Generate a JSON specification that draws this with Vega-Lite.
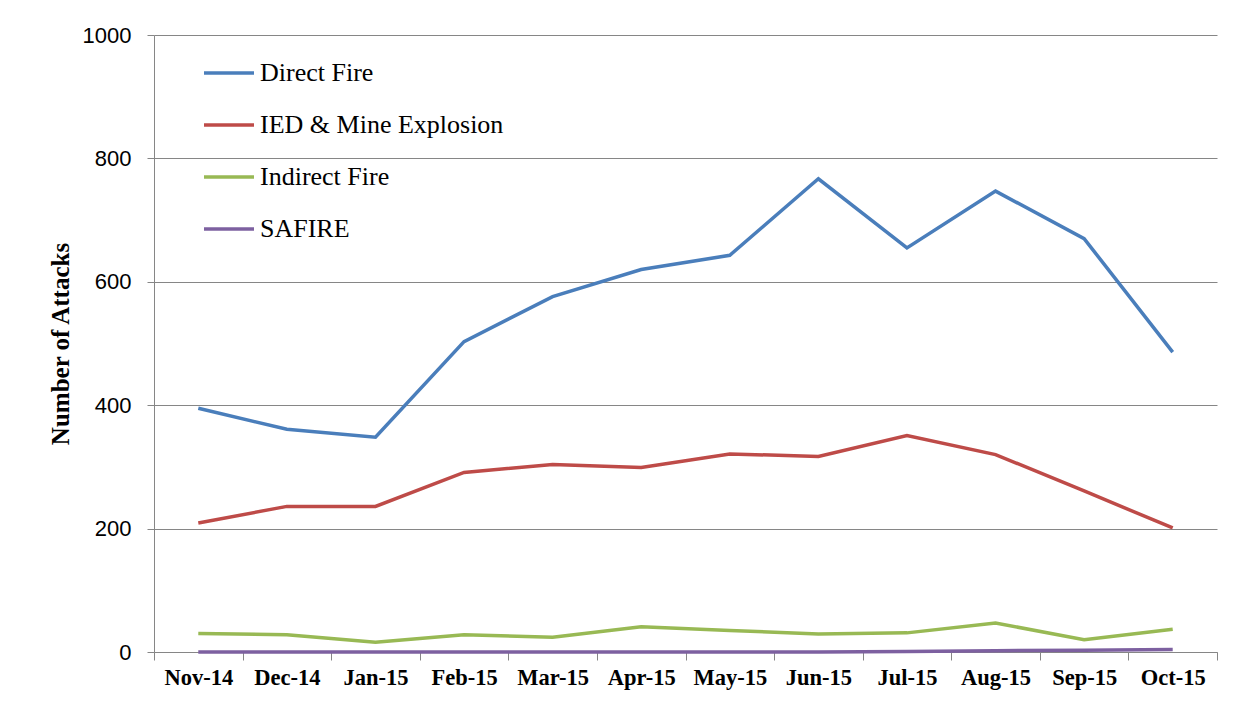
{
  "$schema": "https://vega.github.io/schema/vega-lite/v6.json",
  "autosize": "none",
  "width": 1063,
  "height": 617,
  "padding": {"left": 154, "top": 35, "right": 22, "bottom": 54},
  "background": "white",
  "config": {
    "view": {"stroke": null},
    "axis": {"gridColor": "#868686", "domainColor": "#868686", "tickColor": "#868686", "labelColor": "#000000", "titleColor": "#000000"}
  },
  "data": {
    "values": [
      {"month": "Nov-14", "series": "Direct Fire", "value": 395},
      {"month": "Dec-14", "series": "Direct Fire", "value": 361},
      {"month": "Jan-15", "series": "Direct Fire", "value": 348},
      {"month": "Feb-15", "series": "Direct Fire", "value": 503},
      {"month": "Mar-15", "series": "Direct Fire", "value": 576},
      {"month": "Apr-15", "series": "Direct Fire", "value": 620},
      {"month": "May-15", "series": "Direct Fire", "value": 643},
      {"month": "Jun-15", "series": "Direct Fire", "value": 767},
      {"month": "Jul-15", "series": "Direct Fire", "value": 655},
      {"month": "Aug-15", "series": "Direct Fire", "value": 747},
      {"month": "Sep-15", "series": "Direct Fire", "value": 670},
      {"month": "Oct-15", "series": "Direct Fire", "value": 486},
      {"month": "Nov-14", "series": "IED & Mine Explosion", "value": 209},
      {"month": "Dec-14", "series": "IED & Mine Explosion", "value": 236},
      {"month": "Jan-15", "series": "IED & Mine Explosion", "value": 236},
      {"month": "Feb-15", "series": "IED & Mine Explosion", "value": 291},
      {"month": "Mar-15", "series": "IED & Mine Explosion", "value": 304},
      {"month": "Apr-15", "series": "IED & Mine Explosion", "value": 299},
      {"month": "May-15", "series": "IED & Mine Explosion", "value": 321},
      {"month": "Jun-15", "series": "IED & Mine Explosion", "value": 317},
      {"month": "Jul-15", "series": "IED & Mine Explosion", "value": 351},
      {"month": "Aug-15", "series": "IED & Mine Explosion", "value": 320},
      {"month": "Sep-15", "series": "IED & Mine Explosion", "value": 261},
      {"month": "Oct-15", "series": "IED & Mine Explosion", "value": 201},
      {"month": "Nov-14", "series": "Indirect Fire", "value": 30},
      {"month": "Dec-14", "series": "Indirect Fire", "value": 28},
      {"month": "Jan-15", "series": "Indirect Fire", "value": 16},
      {"month": "Feb-15", "series": "Indirect Fire", "value": 28},
      {"month": "Mar-15", "series": "Indirect Fire", "value": 24},
      {"month": "Apr-15", "series": "Indirect Fire", "value": 41},
      {"month": "May-15", "series": "Indirect Fire", "value": 35},
      {"month": "Jun-15", "series": "Indirect Fire", "value": 29},
      {"month": "Jul-15", "series": "Indirect Fire", "value": 31},
      {"month": "Aug-15", "series": "Indirect Fire", "value": 47},
      {"month": "Sep-15", "series": "Indirect Fire", "value": 20},
      {"month": "Oct-15", "series": "Indirect Fire", "value": 37},
      {"month": "Nov-14", "series": "SAFIRE", "value": 0},
      {"month": "Dec-14", "series": "SAFIRE", "value": 0},
      {"month": "Jan-15", "series": "SAFIRE", "value": 0},
      {"month": "Feb-15", "series": "SAFIRE", "value": 0},
      {"month": "Mar-15", "series": "SAFIRE", "value": 0},
      {"month": "Apr-15", "series": "SAFIRE", "value": 0},
      {"month": "May-15", "series": "SAFIRE", "value": 0},
      {"month": "Jun-15", "series": "SAFIRE", "value": 0},
      {"month": "Jul-15", "series": "SAFIRE", "value": 1},
      {"month": "Aug-15", "series": "SAFIRE", "value": 2},
      {"month": "Sep-15", "series": "SAFIRE", "value": 3},
      {"month": "Oct-15", "series": "SAFIRE", "value": 4}
    ]
  },
  "mark": {"type": "line", "strokeWidth": 3.5, "clip": false},
  "encoding": {
    "x": {
      "field": "month",
      "type": "ordinal",
      "sort": null,
      "bandPosition": 0.5,
      "scale": {"type": "band", "paddingInner": 0, "paddingOuter": 0},
      "axis": {
        "title": null,
        "labelAngle": 0,
        "labelFont": "Liberation Serif",
        "labelFontWeight": "bold",
        "labelFontSize": 22.5,
        "labelPadding": 6,
        "tickSize": 8,
        "tickBand": "extent",
        "grid": false,
        "zindex": 0
      }
    },
    "y": {
      "field": "value",
      "type": "quantitative",
      "scale": {"domain": [0, 1000], "nice": false, "zero": true},
      "axis": {
        "values": [0, 200, 400, 600, 800, 1000],
        "format": "d",
        "title": "Number of Attacks",
        "titleFont": "Liberation Serif",
        "titleFontWeight": "bold",
        "titleFontSize": 25,
        "titlePadding": 9,
        "labelFont": "Liberation Sans",
        "labelFontSize": 22,
        "labelPadding": 16,
        "tickSize": 7,
        "grid": true,
        "zindex": 0
      }
    },
    "color": {
      "field": "series",
      "type": "nominal",
      "scale": {
        "domain": ["Direct Fire", "IED & Mine Explosion", "Indirect Fire", "SAFIRE"],
        "range": ["#4A7EBB", "#BE4B48", "#98B954", "#7D60A0"]
      },
      "legend": {
        "title": null,
        "orient": "none",
        "legendX": 48,
        "legendY": 11,
        "symbolType": "stroke",
        "symbolSize": 2500,
        "symbolStrokeWidth": 3.5,
        "labelFont": "Liberation Serif",
        "labelFontSize": 26,
        "labelColor": "#000000",
        "labelOffset": 4,
        "rowPadding": 12,
        "labelLimit": 400
      }
    }
  }
}
